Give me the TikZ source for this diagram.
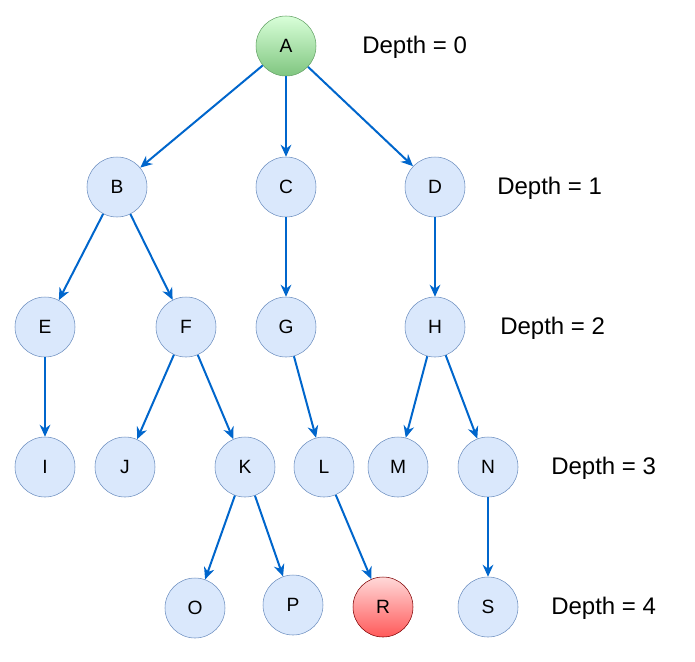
\documentclass[tikz,border=0pt]{standalone}
\usepackage{fontspec}
\setmainfont{Liberation Sans}
\usetikzlibrary{arrows.meta}
\definecolor{nodefill}{HTML}{DAE8FC}
\definecolor{nodeline}{HTML}{6C8EBF}
\definecolor{arrowblue}{HTML}{0066CC}
\tikzset{
  vertex/.style={draw=nodeline, fill=nodefill, circle, minimum size=45pt, inner sep=0pt, font=\Large},
  root/.style={vertex, draw=green!40!black!60, top color=green!15, bottom color=green!55!black!50},
  target/.style={vertex, draw=red!50!black, top color=red!15, bottom color=red!65},
  edge/.style={draw=arrowblue, line width=1.5pt, -{Stealth[length=9pt,width=8pt]}},
  depth/.style={font=\fontsize{18}{21}\selectfont, anchor=west, inner sep=0pt}
}
\begin{document}
\begin{tikzpicture}[x=0.75pt,y=-0.75pt]
\useasboundingbox (0,0) rectangle (695,661);

\node[root] (a) at (286,46) {A};
\node[vertex] (b) at (117,187) {B};
\node[vertex] (c) at (286,187) {C};
\node[vertex] (d) at (435,187) {D};
\node[vertex] (e) at (45,327) {E};
\node[vertex] (f) at (186,327) {F};
\node[vertex] (g) at (286,327) {G};
\node[vertex] (h) at (435,327) {H};
\node[vertex] (i) at (45,467) {I};
\node[vertex] (j) at (125,467) {J};
\node[vertex] (k) at (245,467) {K};
\node[vertex] (l) at (324,467) {L};
\node[vertex] (m) at (398,467) {M};
\node[vertex] (n) at (488,467) {N};
\node[vertex] (o) at (195,608) {O};
\node[vertex] (p) at (293,605) {P};
\node[target] (r) at (383,607) {R};
\node[vertex] (s) at (488,607) {S};

\path[edge] (a) -- (b);
\path[edge] (a) -- (c);
\path[edge] (a) -- (d);
\path[edge] (b) -- (e);
\path[edge] (b) -- (f);
\path[edge] (c) -- (g);
\path[edge] (d) -- (h);
\path[edge] (e) -- (i);
\path[edge] (f) -- (j);
\path[edge] (f) -- (k);
\path[edge] (g) -- (l);
\path[edge] (h) -- (m);
\path[edge] (h) -- (n);
\path[edge] (k) -- (o);
\path[edge] (k) -- (p);
\path[edge] (l) -- (r);
\path[edge] (n) -- (s);

\node[depth] (d0) at (362,47) {Depth = 0};
\node[depth] (d1) at (497,188) {Depth = 1};
\node[depth] (d2) at (500,328) {Depth = 2};
\node[depth] (d3) at (551,468) {Depth = 3};
\node[depth] (d4) at (551,608) {Depth = 4};
\end{tikzpicture}
\end{document}
